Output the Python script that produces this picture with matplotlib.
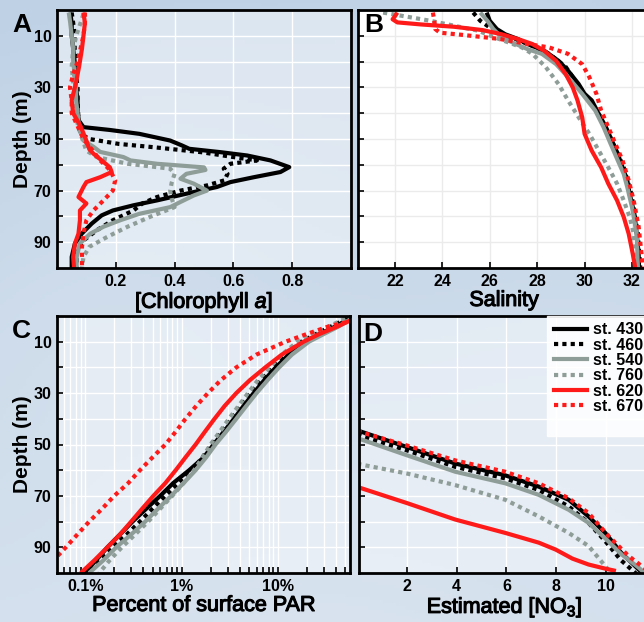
import numpy as np
import matplotlib
matplotlib.use("Agg")
import matplotlib.pyplot as plt
import matplotlib.patheffects as pe
from matplotlib.lines import Line2D
from matplotlib.ticker import FixedLocator, FuncFormatter, LogLocator, NullFormatter

plt.rcParams["font.family"] = ["Liberation Sans", "DejaVu Sans"]
plt.rcParams["mathtext.fontset"] = "custom"
plt.rcParams["mathtext.rm"] = "Liberation Sans"
plt.rcParams["mathtext.it"] = "Liberation Sans:italic"
plt.rcParams["mathtext.bf"] = "Liberation Sans:bold"

# ---------------------------------------------------------------- stations
stations = ["st. 430", "st. 460", "st. 540", "st. 760", "st. 620", "st. 670"]
colors = ["#000000", "#000000", "#8f9d98", "#8f9d98", "#ff1a1a", "#ff1a1a"]
styles = ["solid", "dotted", "solid", "dotted", "solid", "dotted"]

# ---------------------------------------------------------------- A: chlorophyll a
chl_430_d = [1, 5, 10, 15, 20, 25, 30, 35, 40, 43, 45.4, 46.5, 48, 50.6, 52.5, 53.8, 55.1, 56.4, 58.3,
             60.9, 62.8, 64.8, 66.7, 68.6, 71.2, 73.8, 75.7, 77.7, 79.6, 82.8, 86.7, 90.5, 95.7, 100]
chl_430_v = [0.045, 0.05, 0.05, 0.055, 0.06, 0.06, 0.065, 0.07, 0.07, 0.075, 0.09, 0.18, 0.28, 0.385, 0.425,
             0.45, 0.556, 0.647, 0.726, 0.79, 0.76, 0.67, 0.59, 0.544, 0.44, 0.34, 0.26, 0.19, 0.152, 0.118,
             0.084, 0.061, 0.05, 0.05]
chl_460_d = [1, 5, 10, 15, 20, 25, 30, 35, 40, 45, 48, 50, 51.9, 53.2, 55.1, 57, 58.3, 59.6, 61.5, 63.5,
             66, 68, 70, 72.5, 75, 77.7, 81.5, 85.4, 89.3, 93, 97, 100]
chl_460_v = [0.05, 0.055, 0.06, 0.06, 0.065, 0.065, 0.07, 0.07, 0.072, 0.075, 0.08, 0.11, 0.21, 0.33, 0.49,
             0.6, 0.68, 0.59, 0.567, 0.58, 0.57, 0.51, 0.42, 0.34, 0.29, 0.26, 0.19, 0.135, 0.09, 0.067,
             0.067, 0.067]
chl_540_d = [1, 5, 10, 15, 20, 25, 30, 35, 40, 45, 50.6, 53, 55, 57, 58.3, 59.6, 61, 62, 63.5, 65.4, 67.3,
             70, 71.9, 74.4, 76.4, 79, 81.5, 84, 86.7, 90.5, 95.7, 100]
chl_540_v = [0.04, 0.045, 0.05, 0.055, 0.055, 0.06, 0.065, 0.065, 0.07, 0.075, 0.09, 0.124, 0.147, 0.226,
             0.25, 0.34, 0.5, 0.505, 0.44, 0.42, 0.465, 0.51, 0.465, 0.42, 0.385, 0.28, 0.215, 0.158, 0.113,
             0.078, 0.067, 0.067]
chl_760_d = [1.6, 5, 9.4, 15, 22, 28, 35, 42, 48, 54.5, 57, 59.6, 61.5, 63.5, 67, 70, 73, 76.4, 80, 84, 88,
             91.8, 95.7, 100]
chl_760_v = [0.09, 0.08, 0.067, 0.055, 0.05, 0.055, 0.062, 0.065, 0.08, 0.1, 0.135, 0.24, 0.385, 0.4, 0.39,
             0.385, 0.39, 0.4, 0.32, 0.24, 0.17, 0.11, 0.09, 0.085]
chl_620_d = [1, 5, 10, 15, 22, 28, 35, 40, 45, 50.6, 54, 55.7, 58.3, 61, 62.8, 64.8, 66.7, 68.6, 72.5, 75,
             77.7, 81.5, 86.7, 90.5, 95.7, 100]
chl_620_v = [0.09, 0.095, 0.09, 0.085, 0.075, 0.065, 0.05, 0.055, 0.08, 0.1, 0.11, 0.124, 0.152, 0.18,
             0.186, 0.147, 0.1, 0.09, 0.073, 0.1, 0.078, 0.078, 0.073, 0.061, 0.055, 0.058]
chl_670_d = [1, 5, 10, 15, 20, 25, 30, 35, 40, 45, 50, 54, 58.3, 62, 66, 70, 73.8, 77.7, 81.5, 86.7, 91.8, 100]
chl_670_v = [0.095, 0.095, 0.09, 0.08, 0.07, 0.055, 0.044, 0.05, 0.05, 0.07, 0.09, 0.118, 0.147, 0.18,
             0.198, 0.19, 0.158, 0.124, 0.1, 0.09, 0.085, 0.085]

# ---------------------------------------------------------------- B: salinity
sal_430_d = [1, 4.2, 7.4, 9.4, 11.3, 13.2, 15.8, 19.7, 23.5, 28.7, 32.5, 35, 40.3, 45.4, 50.6, 55.7, 61,
             66, 71.2, 79, 86.7, 94.4, 100]
sal_430_v = [25.87, 26.0, 26.3, 26.65, 27.2, 27.6, 28.3, 28.9, 29.3, 29.75, 30.0, 30.3, 30.6, 30.9, 31.15,
             31.4, 31.6, 31.8, 31.9, 32.1, 32.2, 32.28, 32.3]
sal_460_d = [1, 4.2, 7.4, 9.4, 11.3, 13.9, 17, 22, 27.4, 32.5, 40.3, 50.6, 61, 71.2, 86.7, 100]
sal_460_v = [25.3, 25.6, 26.1, 26.5, 27.1, 27.8, 28.5, 29.2, 29.6, 30.0, 30.6, 31.15, 31.65, 31.97, 32.25,
             32.35]
sal_540_d = [1, 4.2, 7.4, 10.6, 13.2, 15.2, 17, 21, 26, 32.5, 39, 45.4, 51.9, 58.3, 63.5, 68.6, 76.4, 86.7,
             100]
sal_540_v = [25.6, 25.9, 26.15, 26.5, 27.1, 27.6, 28.2, 28.8, 29.3, 29.9, 30.45, 30.8, 31.1, 31.4, 31.65,
             31.8, 32.0, 32.2, 32.25]
sal_760_d = [1, 2.9, 4.2, 6.1, 8, 10.6, 12.6, 14.5, 17, 22, 28.7, 35, 41.6, 48, 54.5, 61, 67.3, 73.8, 80.2,
             86.7, 94.4, 100]
sal_760_v = [21.5, 22.7, 23.5, 24.5, 25.5, 26.2, 26.8, 27.35, 27.8, 28.35, 28.9, 29.3, 29.75, 30.2, 30.6,
             31.0, 31.37, 31.65, 31.9, 32.07, 32.14, 32.17]
sal_620_d = [1, 2.4, 3.6, 4.8, 5.6, 6.5, 7.8, 9.4, 11.3, 13.2, 15.8, 19.7, 24.8, 30, 35, 41.6, 48, 54.5, 61,
             67.3, 73.8, 80.2, 86.7, 94.4, 100]
sal_620_v = [22.1, 22.0, 21.9, 22.1, 23.1, 24.5, 25.7, 26.5, 27.2, 27.8, 28.3, 28.8, 29.2, 29.5, 29.7, 29.9,
             30.0, 30.3, 30.7, 31.0, 31.37, 31.65, 31.86, 32.03, 32.14]
sal_670_d = [1, 4.2, 7.4, 8.8, 9.6, 10.4, 11.2, 12, 13.2, 14.5, 17, 21, 26, 32.5, 39, 45.4, 51.9, 58.3, 66,
             73.8, 84, 94.4, 100]
sal_670_v = [23.6, 23.66, 23.7, 23.9, 24.8, 25.6, 26.4, 26.9, 27.6, 28.5, 29.3, 29.9, 30.2, 30.5, 30.7,
             31.0, 31.3, 31.6, 31.86, 32.07, 32.28, 32.4, 32.45]

# ---------------------------------------------------------------- C: percent of surface PAR
par_d = [1, 4, 7, 10, 15, 20, 25, 30, 35, 40, 45, 50, 55, 60, 65, 70, 75, 80, 85, 90, 95, 100]
par_430 = [55, 40, 27, 19, 13, 9.5, 7.2, 5.6, 4.4, 3.5, 2.75, 2.15, 1.7, 1.2, 0.82, 0.6, 0.43, 0.31, 0.23,
           0.17, 0.13, 0.098]
par_460 = [52, 36, 25, 17.5, 12, 8.8, 6.7, 5.2, 4.1, 3.3, 2.6, 2.05, 1.65, 1.28, 0.93, 0.68, 0.5, 0.37,
           0.27, 0.19, 0.14, 0.105]
par_540 = [58, 43, 30, 21, 14, 10.3, 7.8, 6.0, 4.7, 3.7, 2.9, 2.25, 1.8, 1.4, 1.05, 0.78, 0.57, 0.42, 0.3,
           0.21, 0.155, 0.11]
par_760 = [50, 34, 23, 16, 11, 8.2, 6.2, 4.9, 3.9, 3.1, 2.5, 2.0, 1.65, 1.35, 1.05, 0.8, 0.6, 0.45, 0.33,
           0.24, 0.18, 0.14]
par_620 = [62, 42, 27, 18.5, 11, 7.4, 5.1, 3.7, 2.8, 2.2, 1.75, 1.4, 1.1, 0.87, 0.68, 0.51, 0.39, 0.3,
           0.23, 0.17, 0.125, 0.09]
par_670 = [75, 34, 20, 12.0, 6.0, 3.7, 2.55, 1.88, 1.42, 1.1, 0.87, 0.68, 0.5, 0.37, 0.28, 0.2, 0.15, 0.11,
           0.083, 0.063, 0.047, 0.035]

# ---------------------------------------------------------------- D: estimated nitrate
no3_x = [0.0, 2, 3.94, 5.95, 7.3, 8.5, 9.3, 9.97, 10.6, 11.3, 11.9]
no3_430 = [44.5, 51, 57.4, 62, 66.4, 71.5, 78, 84.4, 92, 98.5, 104]
no3_460 = [46.2, 52.3, 58.7, 63.2, 67.7, 74.1, 80.5, 87.6, 95, 101, 106]
no3_540 = [47.5, 54.2, 60.6, 65.1, 69.6, 75.4, 80.5, 86.5, 92.5, 97.8, 103]
no3_760_x = [0.0, 2, 3.94, 5.95, 7.3, 8.5, 9.3, 9.85, 10.2]
no3_760 = [57.5, 61.3, 65.8, 71.5, 78, 84.4, 89.5, 95.9, 100]
no3_620_x = [0.0, 2, 3.94, 5.95, 7.3, 7.98, 8.65, 9.3, 9.97, 10.4]
no3_620 = [66.5, 72.8, 79.2, 84.4, 88.2, 90.9, 94.4, 96.7, 98.3, 99.2]
no3_670_x = [0.0, 2, 3.94, 5.95, 7.3, 8.5, 9.3, 10.1, 10.9, 11.5, 12.0]
no3_670 = [44.8, 50.4, 56.2, 60.6, 65.1, 70.9, 76.7, 85.6, 93.3, 97.8, 101]

# ---------------------------------------------------------------- figure
W, H = 644, 622
fig = plt.figure(figsize=(W / 100, H / 100), dpi=100)

# soft sky backdrop
bg = fig.add_axes([0, 0, 1, 1], zorder=-10)
yy, xx = np.mgrid[0:1:200j, 0:1:200j]
top = np.array([190, 209, 229]) / 255.0
bot = np.array([212, 224, 237]) / 255.0
sky = top[None, None, :] * (1 - yy[..., None]) + bot[None, None, :] * yy[..., None]
for cx, cy, r, a in [(0.15, 0.55, 0.18, 0.10), (0.75, 0.05, 0.15, 0.06), (0.5, 0.95, 0.25, 0.08),
                     (0.9, 0.6, 0.2, 0.07), (0.3, 0.25, 0.2, 0.06)]:
    blob = a * np.exp(-((xx - cx) ** 2 + (yy - cy) ** 2) / (2 * r ** 2))
    sky = sky + blob[..., None] * (1 - sky)
bg.imshow(np.clip(sky, 0, 1), extent=[0, 1, 0, 1], aspect="auto", origin="upper")
bg.axis("off")


def px_axes(x0, y0, x1, y1):
    return fig.add_axes([x0 / W, 1 - y1 / H, (x1 - x0) / W, (y1 - y0) / H])


axA = px_axes(57, 10, 351, 268)
axB = px_axes(358, 10, 650, 268)
axC = px_axes(57, 316, 350, 573)
axD = px_axes(359, 316, 650, 573)

heavy = [pe.withStroke(linewidth=0.8, foreground="black")]
label_font = dict(fontsize=15.5, path_effects=heavy)


def style(ax, face, grid_color, show_y):
    ax.set_facecolor(face)
    for s in ax.spines.values():
        s.set_linewidth(2)
        s.set_color("black")
    ax.set_ylim(100, 0)
    ax.yaxis.set_major_locator(FixedLocator([10, 30, 50, 70, 90]))
    ax.yaxis.set_minor_locator(FixedLocator([20, 40, 60, 80]))
    ax.tick_params(which="both", direction="in", length=4, width=1.2, top=False, right=False,
                   labelsize=11.5, pad=4)
    for lab in ax.get_xticklabels() + ax.get_yticklabels():
        lab.set_fontweight("bold")
    ax.grid(True, which="both", color=grid_color, linewidth=1.0)
    ax.set_axisbelow(True)
    if not show_y:
        ax.set_yticklabels([])
    else:
        ax.set_ylabel("Depth (m)", labelpad=1, fontsize=15, fontweight="bold")


def draw(ax, xs_list, ds_list):
    for xs, ds, c, ls in zip(xs_list, ds_list, colors, styles):
        dash = (0, (1, 1)) if ls == "dotted" else "solid"
        ax.plot(xs, ds, color=c, linestyle=dash, linewidth=3.0, solid_capstyle="butt",
                dash_capstyle="butt", clip_on=True)


face_sky = (1, 1, 1, 0.45)

# A
draw(axA, [chl_430_v, chl_460_v, chl_540_v, chl_760_v, chl_620_v, chl_670_v],
     [chl_430_d, chl_460_d, chl_540_d, chl_760_d, chl_620_d, chl_670_d])
axA.set_xlim(0, 1.0)
axA.xaxis.set_major_locator(FixedLocator([0.2, 0.4, 0.6, 0.8]))
axA.xaxis.set_major_formatter(FuncFormatter(lambda v, p: f"{v:.1f}"))
style(axA, face_sky, "white", True)
axA.set_xlabel(r"[Chlorophyll $\mathit{a}$]", labelpad=1, **label_font)

# B
draw(axB, [sal_430_v, sal_460_v, sal_540_v, sal_760_v, sal_620_v, sal_670_v],
     [sal_430_d, sal_460_d, sal_540_d, sal_760_d, sal_620_d, sal_670_d])
axB.set_xlim(20.44, 32.76)
axB.xaxis.set_major_locator(FixedLocator([22, 24, 26, 28, 30, 32]))
style(axB, "white", "#ebebeb", False)
axB.set_xlabel("Salinity", labelpad=1, **label_font)

# C
draw(axC, [par_430, par_460, par_540, par_760, par_620, par_670], [par_d] * 6)
axC.set_xscale("log")
axC.set_xlim(0.051, 56)
axC.xaxis.set_major_locator(FixedLocator([0.1, 1, 10]))
axC.xaxis.set_major_formatter(FuncFormatter(lambda v, p: f"{v:g}%"))
axC.xaxis.set_minor_locator(LogLocator(base=10, subs=np.arange(2, 10)))
axC.xaxis.set_minor_formatter(NullFormatter())
style(axC, face_sky, "white", True)
axC.set_xlabel("Percent of surface PAR", labelpad=1, **label_font)

# D
draw(axD, [no3_x, no3_x, no3_x, no3_760_x, no3_620_x, no3_670_x],
     [no3_430, no3_460, no3_540, no3_760, no3_620, no3_670])
axD.set_xlim(0.07, 11.77)
axD.xaxis.set_major_locator(FixedLocator([2, 4, 6, 8, 10]))
style(axD, face_sky, "white", False)
axD.set_xlabel(r"Estimated [NO$_3$]", labelpad=1, **label_font)

handles = [Line2D([], [], color=c, linestyle=((0, (1, 1)) if ls == "dotted" else "solid"), linewidth=3.0)
           for c, ls in zip(colors, styles)]
handles.append(Line2D([], [], color="none"))
leg = axD.legend(handles, stations + [" "], loc="upper right", bbox_to_anchor=(1.0, 1.0),
                 borderaxespad=0.0, frameon=True, fancybox=False, handlelength=2.1,
                 handletextpad=0.4, labelspacing=0.02, borderpad=0.4,
                 prop=dict(family="Liberation Sans", weight="bold", size=11.5))
leg.get_frame().set_facecolor("white")
leg.get_frame().set_alpha(0.88)
leg.get_frame().set_edgecolor("white")

# panel letters
letter = dict(fontsize=19, fontweight="bold")
fig.text(12 / W, 1 - 32 / H, "A", **letter)
fig.text(364 / W, 1 - 32 / H, "B", **letter)
fig.text(12 / W, 1 - 338 / H, "C", **letter)
fig.text(363 / W, 1 - 341 / H, "D", **letter)

fig.savefig("out.png", dpi=100)
